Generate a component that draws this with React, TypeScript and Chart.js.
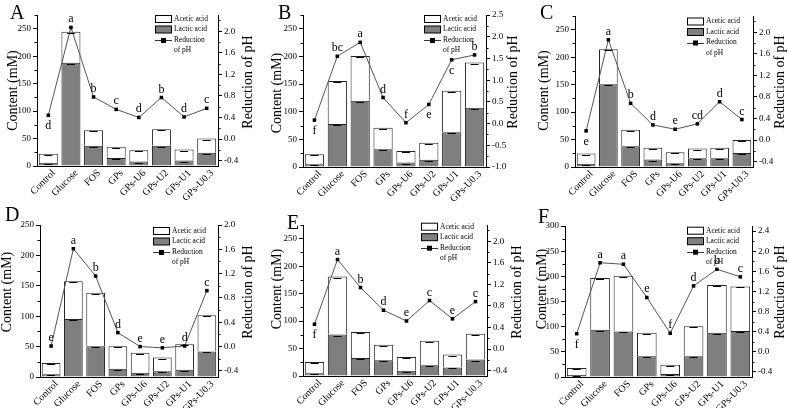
import React, { useEffect, useRef } from "react";
import { Chart, registerables } from "chart.js";
Chart.register(...registerables);

const SERIF = '"Liberation Serif", "Times New Roman", serif';

const categories = ["Control", "Glucose", "FOS", "GPs", "GPs-U6", "GPs-U2", "GPs-U1", "GPs-U0.3"];

const lacticA = [6, 188, 37, 14.5, 8, 37, 10, 24];
const aceticA = [16.5, 56.5, 28, 20.5, 20.5, 30, 20, 26];
const phA = [0.44, 2.07, 0.78, 0.55, 0.4, 0.77, 0.41, 0.57];
const lettersA = ["d", "a", "b", "c", "d", "b", "d", "c"];
const belowA = [1, 0, 0, 0, 0, 0, 0, 0];

const lacticB = [5, 78, 120, 32, 8, 13, 63, 107];
const aceticB = [18, 77.5, 81, 39, 21, 31, 75, 82];
const phB = [0.08, 1.55, 1.87, 0.6, 0.02, 0.44, 1.47, 1.58];
const lettersB = ["f", "bc", "a", "d", "f", "e", "c", "b"];
const belowB = [1, 0, 0, 0, 0, 1, 1, 0];

const lacticC = [6, 150.5, 38, 13.5, 7, 16, 16, 25.5];
const aceticC = [18.5, 64, 30, 21.5, 20, 17.5, 19, 23.5];
const phC = [0.17, 1.86, 0.68, 0.28, 0.2, 0.3, 0.71, 0.38];
const lettersC = ["e", "a", "b", "d", "e", "cd", "d", "c"];
const belowC = [1, 0, 0, 0, 0, 0, 0, 0];

const lacticD = [4.5, 95.5, 50.5, 13.5, 7, 9.5, 12, 42];
const aceticD = [18.5, 62, 88, 37, 33, 22.5, 42, 59.5];
const phD = [0.01, 1.61, 1.16, 0.23, 0.0, -0.02, 0.01, 0.92];
const lettersD = ["e", "a", "b", "d", "e", "e", "d", "c"];
const belowD = [0, 0, 0, 0, 0, 0, 0, 0];

const lacticE = [5, 75.5, 33, 28.5, 9.5, 19.5, 15.5, 30];
const aceticE = [20.5, 105.5, 47, 28.5, 25, 44.5, 23.5, 47];
const phE = [0.46, 1.66, 1.14, 0.72, 0.52, 0.9, 0.56, 0.88];
const lettersE = ["f", "a", "b", "d", "e", "c", "e", "c"];
const belowE = [1, 0, 0, 0, 0, 0, 0, 0];

const lacticF = [4, 94, 90.5, 41, 6, 41, 88, 91.5];
const aceticF = [14, 102.5, 110.5, 47, 18.5, 60, 95, 88.5];
const phF = [0.36, 1.77, 1.74, 1.08, 0.37, 1.31, 1.64, 1.49];
const lettersF = ["f", "a", "a", "e", "f", "d", "b", "c"];
const belowF = [1, 0, 0, 0, 0, 0, 0, 0];

const contentTicks250 = [0, 50, 100, 150, 200, 250];
const contentTicks300 = [0, 50, 100, 150, 200, 250, 300];
const phTicksStd = [-0.4, 0, 0.4, 0.8, 1.2, 1.6, 2.0];
const phTicksB = [-1.0, -0.5, 0, 0.5, 1.0, 1.5, 2.0, 2.5];
const phTicksF = [-0.4, 0, 0.4, 0.8, 1.2, 1.6, 2.0, 2.4];

const legendLabels = ["Acetic acid", "Lactic acid", "Reduction", "of pH"];
const leftTitle = "Content (mM)";
const rightTitle = "Reduction of pH";

type Panel = any;

const panels: Panel[] = [
  {
    name: "A", lactic: lacticA, acetic: aceticA, ph: phA, letters: lettersA, below: belowA,
    yMax: 275, yTicks: contentTicks250, yMinor: 25, y1Min: -0.5, y1Max: 2.3, y1Ticks: phTicksStd, y1Minor: 0.2,
    box: { x: 0, y: 0, w: 262, h: 204 }, plot: { l: 37, r: 218, t: 15, b: 166 },
    lt: { x: 13, y: 90.5 }, rt: { x: 248, y: 82 }, lab: { x: 10, y: 18.5 }, leg: { x: 155, y: 19 },
  },
  {
    name: "B", lactic: lacticB, acetic: aceticB, ph: phB, letters: lettersB, below: belowB,
    yMax: 275, yTicks: contentTicks250, yMinor: 25, y1Min: -1.0, y1Max: 2.5, y1Ticks: phTicksB, y1Minor: 0.25,
    box: { x: 262, y: 0, w: 263, h: 204 }, plot: { l: 303, r: 486, t: 15, b: 167 },
    lt: { x: 277, y: 93 }, rt: { x: 513, y: 82 }, lab: { x: 278, y: 18.5 }, leg: { x: 424, y: 19 },
  },
  {
    name: "C", lactic: lacticC, acetic: aceticC, ph: phC, letters: lettersC, below: belowC,
    yMax: 275, yTicks: contentTicks250, yMinor: 25, y1Min: -0.5, y1Max: 2.3, y1Ticks: phTicksStd, y1Minor: 0.2,
    box: { x: 525, y: 0, w: 263, h: 204 }, plot: { l: 575, r: 753, t: 16, b: 167 },
    lt: { x: 544, y: 90.5 }, rt: { x: 780, y: 82 }, lab: { x: 540, y: 18.5 }, leg: { x: 687, y: 21.5 },
  },
  {
    name: "D", lactic: lacticD, acetic: aceticD, ph: phD, letters: lettersD, below: belowD,
    yMax: 250, yTicks: contentTicks250, yMinor: 25, y1Min: -0.5, y1Max: 2.0, y1Ticks: phTicksStd, y1Minor: 0.2,
    box: { x: 0, y: 204, w: 262, h: 204 }, plot: { l: 40, r: 218, t: 225, b: 377 },
    lt: { x: 7, y: 292 }, rt: { x: 248, y: 292 }, lab: { x: 5, y: 221 }, leg: { x: 153, y: 231 },
  },
  {
    name: "E", lactic: lacticE, acetic: aceticE, ph: phE, letters: lettersE, below: belowE,
    yMax: 275, yTicks: contentTicks250, yMinor: 25, y1Min: -0.5, y1Max: 2.3, y1Ticks: phTicksStd, y1Minor: 0.2,
    box: { x: 262, y: 204, w: 263, h: 204 }, plot: { l: 303, r: 487, t: 225, b: 376 },
    lt: { x: 277, y: 289 }, rt: { x: 517, y: 292 }, lab: { x: 287, y: 228.5 }, leg: { x: 421, y: 226.7 },
  },
  {
    name: "F", lactic: lacticF, acetic: aceticF, ph: phF, letters: lettersF, below: belowF,
    yMax: 300, yTicks: contentTicks300, yMinor: 25, y1Min: -0.5, y1Max: 2.5, y1Ticks: phTicksF, y1Minor: 0.2,
    box: { x: 525, y: 204, w: 263, h: 204 }, plot: { l: 565, r: 752, t: 226, b: 377 },
    lt: { x: 542, y: 289 }, rt: { x: 780, y: 292 }, lab: { x: 538, y: 222.5 }, leg: { x: 687, y: 230.7 },
  },
];

function makeDecor(p: Panel) {
  return {
    id: "decor" + p.name,
    afterDatasetsDraw(chart: any) {
      // small error-bar caps on top of each bar segment
      const ctx = chart.ctx;
      ctx.save();
      ctx.strokeStyle = "#000";
      ctx.lineWidth = 1;
      [1, 2].forEach((di) => {
        const meta = chart.getDatasetMeta(di);
        meta.data.forEach((bar: any) => {
          const y = Math.round(bar.y) + 1.5;
          ctx.beginPath();
          ctx.moveTo(bar.x - 4, y);
          ctx.lineTo(bar.x + 4, y);
          ctx.stroke();
        });
      });
      ctx.restore();
    },
    afterDraw(chart: any) {
      const ctx = chart.ctx;
      const ox = p.box.x;
      const oy = p.box.y;
      ctx.save();
      ctx.fillStyle = "#000";
      ctx.strokeStyle = "#000";

      // minor ticks
      const drawMinor = (scale: any, step: number, dir: number) => {
        const min = scale.min, max = scale.max;
        const start = Math.ceil((min - 1e-9) / step) * step;
        ctx.lineWidth = 1;
        for (let v = start; v <= max + 1e-9; v += step) {
          const isMajor = scale.ticks.some((t: any) => Math.abs(t.value - v) < 1e-6);
          if (isMajor) continue;
          const y = Math.round(scale.getPixelForValue(v)) + 0.5;
          const x0 = dir < 0 ? scale.right : scale.left;
          ctx.beginPath();
          ctx.moveTo(x0, y);
          ctx.lineTo(x0 + dir * 2.5, y);
          ctx.stroke();
        }
      };
      drawMinor(chart.scales.y, p.yMinor, -1);
      drawMinor(chart.scales.y1, p.y1Minor, 1);

      // category labels, rotated 45 degrees
      const xs = chart.scales.x;
      ctx.font = `10px ${SERIF}`;
      ctx.textAlign = "right";
      ctx.textBaseline = "top";
      categories.forEach((c, i) => {
        const tx = xs.getPixelForTick(i);
        ctx.save();
        ctx.translate(tx + 2, xs.top + 2);
        ctx.rotate(-Math.PI / 4);
        ctx.fillText(c, 0, 0);
        ctx.restore();
      });

      // panel label
      ctx.font = `20px ${SERIF}`;
      ctx.textAlign = "left";
      ctx.textBaseline = "alphabetic";
      ctx.fillText(p.name, p.lab.x - ox, p.lab.y - oy);

      // axis titles
      ctx.font = `14px ${SERIF}`;
      ctx.textAlign = "center";
      ctx.textBaseline = "middle";
      ctx.save();
      ctx.translate(p.lt.x - ox, p.lt.y - oy);
      ctx.rotate(-Math.PI / 2);
      ctx.fillText(leftTitle, 0, 0);
      ctx.restore();
      ctx.save();
      ctx.translate(p.rt.x - ox, p.rt.y - oy);
      ctx.rotate(-Math.PI / 2);
      ctx.fillText(rightTitle, 0, 0);
      ctx.restore();

      // legend
      const lx = p.leg.x - ox;
      const ly = p.leg.y - oy;
      const rowH = 10.5;
      ctx.lineWidth = 1;
      ctx.fillStyle = "#fff";
      ctx.fillRect(lx + 0.5, ly - 3.5, 16, 7);
      ctx.strokeRect(lx + 0.5, ly - 3.5, 16, 7);
      ctx.fillStyle = "#7f7f7f";
      ctx.fillRect(lx + 0.5, ly + rowH - 3.5, 16, 7);
      ctx.strokeRect(lx + 0.5, ly + rowH - 3.5, 16, 7);
      ctx.strokeStyle = "#333";
      ctx.beginPath();
      ctx.moveTo(lx, Math.round(ly + 2 * rowH) + 0.5);
      ctx.lineTo(lx + 17, Math.round(ly + 2 * rowH) + 0.5);
      ctx.stroke();
      ctx.fillStyle = "#000";
      ctx.fillRect(lx + 6, ly + 2 * rowH - 2, 5, 5);
      ctx.font = `7.5px ${SERIF}`;
      ctx.textAlign = "left";
      ctx.textBaseline = "middle";
      ctx.fillText(legendLabels[0], lx + 19, ly);
      ctx.fillText(legendLabels[1], lx + 19, ly + rowH);
      ctx.fillText(legendLabels[2], lx + 19, ly + 2 * rowH);
      ctx.fillText(legendLabels[3], lx + 19, ly + 3 * rowH);

      // significance letters
      const meta = chart.getDatasetMeta(0);
      ctx.font = `12px ${SERIF}`;
      ctx.textAlign = "center";
      ctx.textBaseline = "alphabetic";
      meta.data.forEach((pt: any, i: number) => {
        const yy = p.below[i] ? pt.y + 14 : pt.y - 5;
        ctx.fillText(p.letters[i], pt.x, yy);
      });
      ctx.restore();
    },
  };
}

function PanelChart({ p }: { p: Panel }) {
  const ref = useRef<HTMLCanvasElement>(null);
  useEffect(() => {
    if (!ref.current) return;
    const tickFont = { family: SERIF, size: 9 };
    const chart = new Chart(ref.current, {
      type: "bar",
      data: {
        labels: categories,
        datasets: [
          {
            type: "line",
            label: "Reduction of pH",
            data: p.ph,
            yAxisID: "y1",
            borderColor: "#555",
            borderWidth: 1,
            pointStyle: "rect",
            pointRadius: 2.5,
            pointBackgroundColor: "#000",
            pointBorderColor: "#000",
            pointBorderWidth: 0,
            order: 0,
          } as any,
          {
            type: "bar",
            label: "Lactic acid",
            data: p.lactic,
            yAxisID: "y",
            backgroundColor: "#7f7f7f",
            borderColor: "#222",
            borderWidth: 1,
            stack: "s",
            order: 1,
          },
          {
            type: "bar",
            label: "Acetic acid",
            data: p.acetic,
            yAxisID: "y",
            backgroundColor: "#fff",
            borderColor: "#222",
            borderWidth: 1,
            stack: "s",
            order: 2,
          },
        ],
      },
      options: {
        animation: false,
        responsive: false,
        devicePixelRatio: 1,
        layout: { padding: { top: p.plot.t - p.box.y, left: 0, right: 0, bottom: 0 } },
        plugins: { legend: { display: false }, tooltip: { enabled: false } },
        datasets: { bar: { categoryPercentage: 1, barPercentage: 0.84 } },
        scales: {
          x: {
            stacked: true,
            grid: { display: false },
            border: { display: true, color: "#000", width: 1 },
            ticks: { display: false },
            afterFit: (s: any) => {
              s.height = p.box.y + p.box.h - p.plot.b;
            },
          },
          y: {
            stacked: true,
            position: "left",
            min: 0,
            max: p.yMax,
            afterBuildTicks: (s: any) => {
              s.ticks = p.yTicks.map((v: number) => ({ value: v }));
            },
            grid: { drawOnChartArea: false, drawTicks: true, tickLength: 4, color: "#000" },
            border: { display: true, color: "#000", width: 1 },
            ticks: { color: "#000", font: tickFont, padding: 2 },
            afterFit: (s: any) => {
              s.width = p.plot.l - p.box.x;
            },
          },
          y1: {
            position: "right",
            min: p.y1Min,
            max: p.y1Max,
            afterBuildTicks: (s: any) => {
              s.ticks = p.y1Ticks.map((v: number) => ({ value: v }));
            },
            grid: { drawOnChartArea: false, drawTicks: true, tickLength: 4, color: "#000" },
            border: { display: true, color: "#000", width: 1 },
            ticks: {
              color: "#000",
              font: tickFont,
              padding: 2,
              callback: (v: any) => Number(v).toFixed(1),
            },
            afterFit: (s: any) => {
              s.width = p.box.x + p.box.w - p.plot.r;
            },
          },
        },
      } as any,
      plugins: [makeDecor(p)],
    });
    return () => chart.destroy();
  }, [p]);
  return (
    <canvas
      ref={ref}
      width={p.box.w}
      height={p.box.h}
      style={{ position: "absolute", left: p.box.x, top: p.box.y, width: p.box.w, height: p.box.h, display: "block" }}
    />
  );
}

export default function App() {
  return (
    <div style={{ position: "absolute", left: 0, top: 0, width: 788, height: 408, background: "#fff", overflow: "hidden" }}>
      {panels.map((p) => (
        <PanelChart key={p.name} p={p} />
      ))}
    </div>
  );
}
